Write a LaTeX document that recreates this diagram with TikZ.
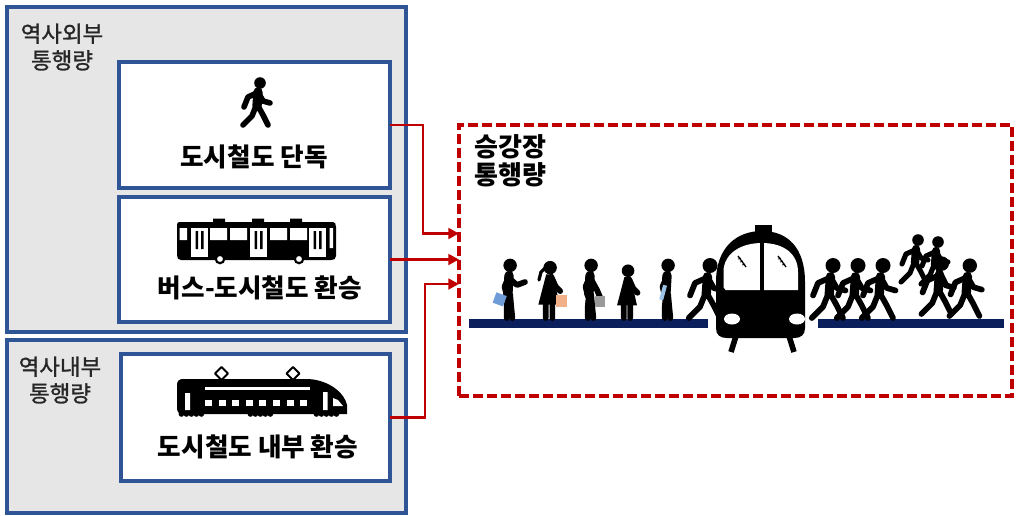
\documentclass[tikz,border=0pt]{standalone}
\usepackage{fontspec}
\setmainfont{Noto Sans CJK KR}
\newfontfamily\labelfont[FakeBold=1.2]{Noto Sans CJK KR}
\usetikzlibrary{arrows.meta,calc}
\definecolor{boxblue}{HTML}{2F5597}
\definecolor{boxgray}{HTML}{E6E6E6}
\definecolor{flowred}{HTML}{C00000}
\definecolor{platnavy}{HTML}{0B1F5C}
\definecolor{bagblue}{HTML}{6F9BD6}
\definecolor{bagpeach}{HTML}{F2B088}
\definecolor{baggray}{HTML}{9A9A9A}
\definecolor{cupblue}{HTML}{9CC3E6}

\tikzset{
  figlw/.initial=4.3pt,
  figtw/.initial=7pt,
  headr/.initial=6,
  limbs/.style={line width=\pgfkeysvalueof{/tikz/figlw},line cap=round,line join=round},
  trunk/.style={line width=\pgfkeysvalueof{/tikz/figtw},line cap=round,line join=round},
  % walking person, feet centred on the origin, facing right
  walker/.pic={
    \fill (4,-42) circle[radius=\pgfkeysvalueof{/tikz/headr}];
    \draw[trunk] (2,-33) -- (1,-19);
    \draw[limbs] (1,-32) -- (-8,-28) -- (-12,-18)
                 (3,-31) -- (7,-24) -- (14,-22)
                 (0,-19) -- (-4,-9) -- (-13,0)
                 (2,-19) -- (7,-10) -- (12,0);
  },
  % standing person
  stander/.pic={
    \fill (1,-47) circle[radius=\pgfkeysvalueof{/tikz/headr}];
    \draw[trunk] (0,-38) -- (-1,-21);
    \draw[limbs] (-1,-21) -- (-2,-10) -- (-2,0)
                 (1,-21) -- (2,-10) -- (3,0)
                 (0,-37) -- (-4,-28) -- (-2,-20);
  },
  % person in a dress
  lady/.pic={
    \fill (1,-45) circle[radius=\pgfkeysvalueof{/tikz/headr}];
    \fill[line join=round] (-2.5,-39) -- (3.5,-39) -- (9.5,-12) -- (-9.5,-12) -- cycle;
    \draw[limbs] (-3,-13) -- (-3,0)
                 (3,-13) -- (3,0)
                 (2,-37) -- (6,-28) -- (10,-24);
  },
  outerbox/.style={draw=boxblue,fill=boxgray,line width=2.3pt,inner sep=0,outer sep=0},
  innerbox/.style={draw=boxblue,fill=white,line width=2.3pt,inner sep=0,outer sep=0},
  zonebox/.style={draw=flowred,line width=2.3pt,dash pattern=on 7.5pt off 3pt,inner sep=0,outer sep=0},
  flow/.style={draw=flowred,line width=2.2pt,-{Triangle[length=8pt,width=8pt]}},
  grouplbl/.style={font=\labelfont\fontsize{16.8}{20}\selectfont,text=black!85,align=center,inner sep=0},
  boxlbl/.style={font=\bfseries\fontsize{19.2}{22}\selectfont,inner sep=0},
  zonelbl/.style={font=\bfseries\fontsize{19.5}{21}\selectfont,align=left,inner sep=0,anchor=west},
}

\begin{document}
\begin{tikzpicture}[x=0.75pt,y=-0.75pt]
\useasboundingbox (0,0) rectangle (1019,515);

% ---- group frames ----
\node[outerbox,minimum width={399*0.75pt},minimum height={325*0.75pt}] (ext) at (206.5,169.5) {};
\node[outerbox,minimum width={399*0.75pt},minimum height={173*0.75pt}] (int) at (206.5,426.5) {};
\node[grouplbl] (extlbl) at (62,47) {역사외부\\통행량};
\node[grouplbl] (intlbl) at (60,380) {역사내부\\통행량};

% ---- flow boxes ----
\node[innerbox,minimum width={271*0.75pt},minimum height={126*0.75pt}] (b1) at (254.5,125) {};
\node[innerbox,minimum width={271*0.75pt},minimum height={125*0.75pt}] (b2) at (254.5,259.5) {};
\node[innerbox,minimum width={269*0.75pt},minimum height={127*0.75pt}] (b3) at (255.5,417.5) {};

\node[boxlbl] (t1) at (254,157) {도시철도 단독};
\node[boxlbl] (t2) at (260,288) {버스-도시철도 환승};
\node[boxlbl] (t3) at (258,447) {도시철도 내부 환승};

% walking pedestrian icon
\pic[figlw=4.2pt,figtw=7pt,headr=5.8] at (256,125) {walker};

% bus icon
\begin{scope}
  \fill (213,218.5) rectangle (225,223) (252,218.5) rectangle (264,223) (290,218.5) rectangle (302,223);
  \fill (179,222) -- (333,222) .. controls (335,222) and (336,224) .. (336,227)
        -- (336,256) .. controls (336,259) and (334,260) .. (331,260)
        -- (181,260) .. controls (178,260) and (177,258) .. (177,255)
        -- (177,225) .. controls (177,223) and (178,222) .. (179,222) -- cycle;
  \fill[white] (179.5,228) rectangle (187,240)
               (210,228) rectangle (227,240) (230,228) rectangle (247,240)
               (270,228) rectangle (287,240) (290,228) rectangle (307,240)
               (329.5,228) rectangle (333,248);
  \foreach \d in {191,250,309}{
    \fill[white] (\d,228) rectangle ++(17,29);
    \fill (\d+4.5,231) rectangle ++(2.5,18) (\d+10,231) rectangle ++(2.5,18);
  }
  \filldraw[fill=white,draw=black,line width=1.6pt] (220,259) circle[radius=4.2] (299,259) circle[radius=4.2];
\end{scope}

% train icon
\begin{scope}
  \filldraw[fill=white,draw=black,line width=1.4pt,line join=round]
     (221.5,367) -- (228,373.5) -- (221.5,380) -- (215,373.5) -- cycle
     (293,367) -- (299.5,373.5) -- (293,380) -- (286.5,373.5) -- cycle;
  \fill (183,379) -- (308,379) .. controls (330,380) and (345,394) .. (347,405)
        -- (347,414) -- (183,414) .. controls (179,414) and (177,412) .. (177,408)
        -- (177,385) .. controls (177,381) and (179,379) .. (183,379) -- cycle;
  \foreach \bx in {179,184,189,194,199,248,253,258,263,268,314,319,324,329,334}
     \fill (\bx+2.4,414) circle[radius=2.8];
  \fill[white] (205,387) rectangle (310,389.5);
  \foreach \k in {0,...,7} \fill[white] (205+13.6*\k,400) rectangle ++(7,5.5);
  \fill[white] (185,393) rectangle (190,410) (323,392) rectangle (327.5,410);
  \fill[white] (333,398) -- (338,400) -- (343,406) -- (333,406) -- cycle;
\end{scope}

% ---- platform zone ----
\node[zonebox,minimum width={553*0.75pt},minimum height={271*0.75pt}] (plat) at (735.5,260.5) {};
\node[zonelbl] (platlbl) at (474,161) {승강장\\통행량};

% platform edges
\fill[platnavy] (469,319) rectangle (708,328);
\fill[platnavy] (818,319) rectangle (1004,328);

% train front
\begin{scope}
  \fill (755,225) rectangle (772,236);
  \fill (716,328) -- (716,282) .. controls (716,247) and (737,231) .. (762,231)
        .. controls (787,231) and (805,247) .. (805,282) -- (805,328)
        .. controls (805,335) and (801,338) .. (794,338) -- (727,338)
        .. controls (720,338) and (716,335) .. (716,328) -- cycle;
  \fill[white] (723.5,290) -- (723.5,272) .. controls (723.5,254) and (740,243) .. (762,243)
        .. controls (784,243) and (798,254) .. (798,272) -- (798,290) -- cycle;
  \fill (760,242) rectangle (764,291);
  \fill[white] (732,319) ellipse[x radius=8,y radius=5.5] (797,319) ellipse[x radius=8,y radius=5.5];
  \draw[line width=4.2pt] (736,336) -- (731,352) (789,336) -- (794,352);
  \foreach \wx in {742,782}{
    \draw[line width=1pt] (\wx-4,256) -- (\wx+4,267);
    \draw[line width=0.6pt] (\wx-4,259) -- (\wx-1,258) (\wx-2,262) -- (\wx+1,261) (\wx,265) -- (\wx+3,264);
  }
\end{scope}

% passengers waiting on the left
\pic[scale=1.12] at (509,318) {stander};
\draw[limbs] (510,279) -- (517,285) -- (525,282);
\fill[bagblue,rotate around={-20:(500,300)}] (494,294) rectangle (505,305);
\pic[scale=1.12] at (549,318) {lady};
\draw[line width=2.4pt,line cap=round] (547,266) -- (541,272) -- (539,280);
\fill[bagpeach] (556,295) rectangle (567,307);
\pic[scale=1.12] at (590,318) {stander};
\draw[limbs] (591,279) -- (597,290) -- (600,297);
\fill[baggray] (595,296) rectangle (605,307);
\pic[scale=1.05] at (627,318) {lady};
\pic[scale=1.12] at (667,318) {stander};
\fill[cupblue,rotate around={-15:(663,293)}] (661,285) rectangle (665,300);
\pic[scale=1.25] at (705,318) {walker};

% passengers leaving on the right
\pic[scale=1.25] at (828,318) {walker};
\pic[scale=1.25] at (853,318) {walker};
\pic[scale=1.25] at (878,318) {walker};
\pic[scale=1.0,figlw=3.8pt,figtw=6.2pt,headr=5.8] at (914,282) {walker};
\pic[scale=1.0,figlw=3.8pt,figtw=6.2pt,headr=5.8] at (934,284) {walker};
\pic[scale=1.2] at (937,314) {walker};
\pic[scale=1.2] at (965,316) {walker};

% ---- flows into the platform ----
\coordinate (in1) at ($(plat.west)+(0,-27)$);
\coordinate (in3) at ($(plat.west)+(0,23.5)$);
\path[flow] (b1.east) -- ++(33,0) |- (in1);
\path[flow] (b2.east) -- (plat.west |- b2.east);
\path[flow] (b3.east) -- ++(35,0) |- (in3);
\end{tikzpicture}
\end{document}
